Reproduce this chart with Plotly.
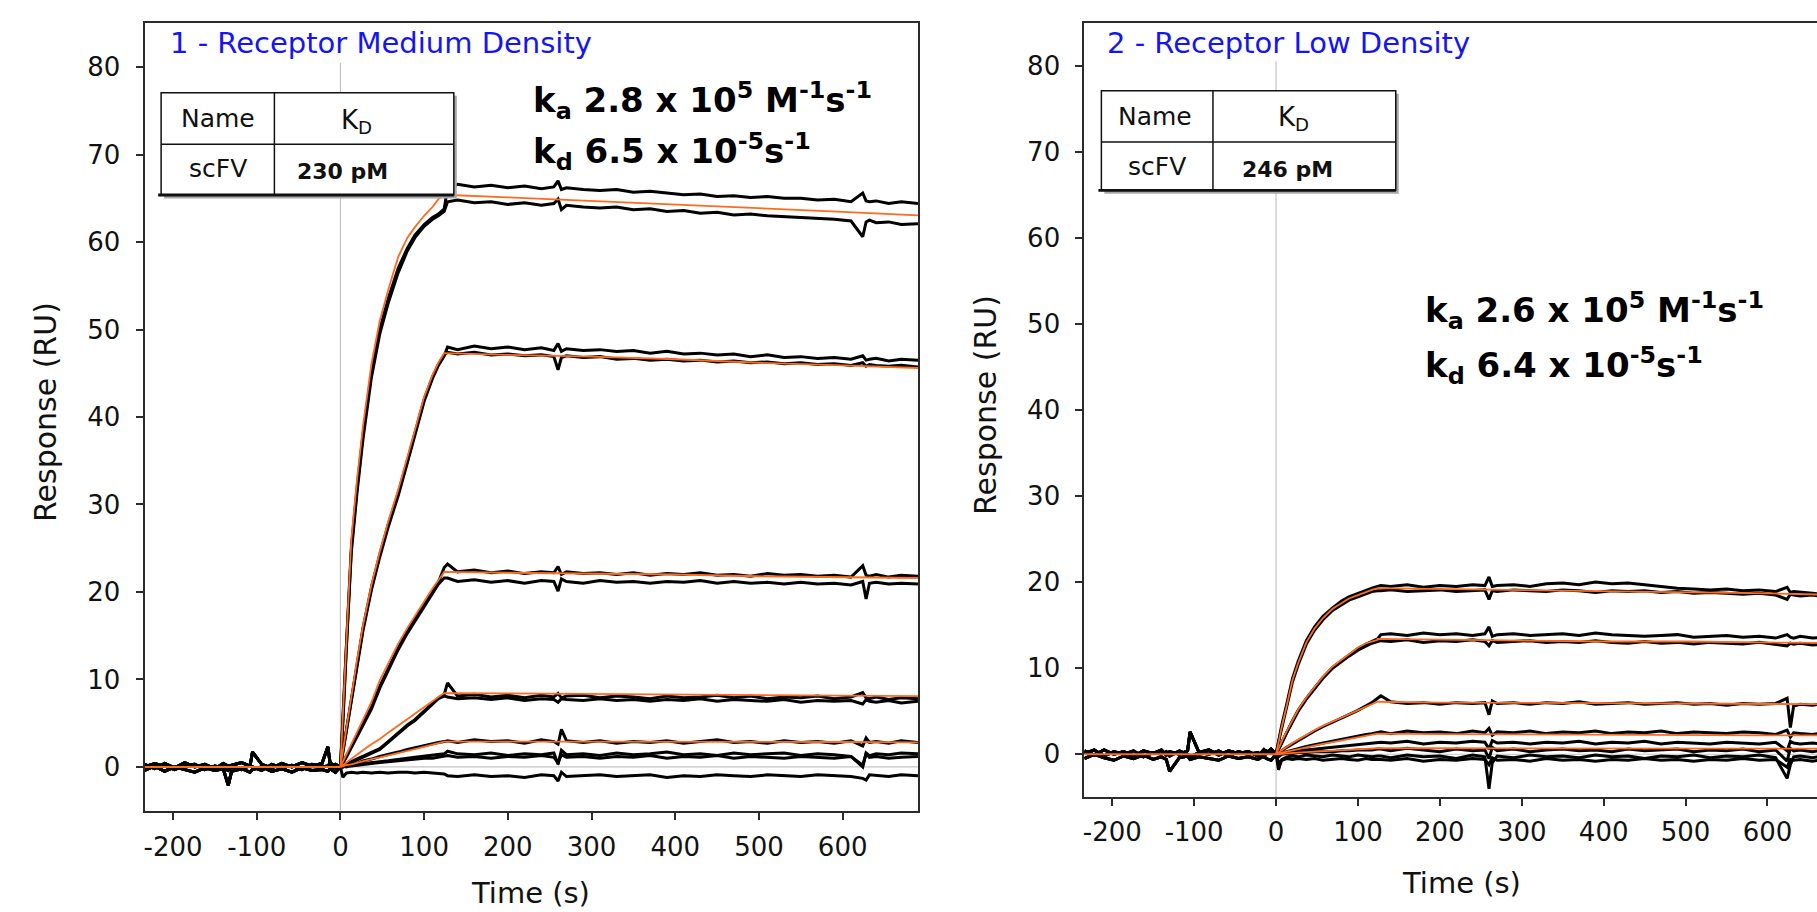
import plotly.graph_objects as go

W, H = 1817, 912

# ---- time grids (s) ----
T_PRE = [-234, -222, -210, -198, -186, -174, -162, -150, -140, -134, -130, -118, -108,
         -105, -94, -82, -70, -58, -46, -34, -22, -15, -12, -6, 0]
T_ON = [0, 3, 7, 13, 20, 27, 37, 47, 57, 69, 80, 89, 100, 110, 117, 124]
T_OFF = [128, 140, 160, 180, 200, 220, 240, 255, 260, 264, 270, 290, 310, 330, 350, 370,
         390, 410, 430, 450, 470, 490, 510, 530, 550, 570, 590, 610, 624, 628, 632, 640,
         655, 670, 690]
T_FIT_OFF = [124, 200, 300, 400, 500, 600, 690]
T_FIT_BASE = [-234, 0]
FIT_BASE = [0, 0]

X_TICKS = [-200, -100, 0, 100, 200, 300, 400, 500, 600]
X_TICK_TEXT = ["-200", "-100", "0", "100", "200", "300", "400", "500", "600"]
Y_TICKS = [0, 10, 20, 30, 40, 50, 60, 70, 80]

# ---- panel 1 : receptor medium density ----
PRE_A = [0.3, -0.2, 0.4, -0.1, 0.5, 0.0, 0.3, -0.2, 0.4, 0.1, 0.2, 0.5, 0.1, 1.7, 0.3,
         -0.1, 0.4, 0.0, 0.5, 0.1, 0.4, 2.3, 0.2, 0.3, 0.0]
PRE_B = [-0.4, 0.1, -0.5, 0.0, -0.3, -0.6, -0.1, -0.4, -0.2, -2.1, -0.5, -0.2, -0.6, -0.3,
         0.0, -0.5, -0.2, -0.6, -0.1, -0.4, -0.3, -0.5, -0.2, -0.6, 0.0]
PRE_C = [0.0, 0.4, 0.1, -0.3, 0.2, 0.3, -0.3, 0.1, -0.1, -0.4, 0.0, -0.3, 0.2, 0.0, -0.4,
         0.3, -0.1, 0.2, -0.3, 0.3, 0.0, 0.1, 0.5, -0.2, 0.0]

L1A_ON = [0, 5.5, 14, 25, 32, 38, 45, 50, 53.5, 57, 59.3, 60.8, 62, 62.8, 63.2, 63.8]
L1A_OFF = [66.2, 66.6, 66.3, 66.5, 66.2, 66.4, 66.1, 66.3, 67.0, 66.0, 66.2, 66.0, 65.9, 66.0,
           65.7, 65.8, 65.6, 65.4, 65.5, 65.2, 65.3, 65.1, 65.2, 65.0, 65.0, 64.8, 64.9, 64.6,
           65.6, 64.7, 64.6, 64.7, 64.4, 64.6, 64.4]
L1B_ON = [0, 5, 13.5, 24.5, 31.5, 37.5, 44.5, 49.5, 53, 56.5, 59, 60.5, 61.8, 62.6, 63.0, 63.5]
L1B_OFF = [64.6, 64.8, 64.5, 64.6, 64.3, 64.5, 64.2, 64.4, 64.9, 63.7, 64.2, 64.0, 63.9, 64.0,
           63.7, 63.8, 63.5, 63.6, 63.3, 63.4, 63.1, 63.2, 63.0, 62.9, 62.8, 62.7, 62.6, 62.4,
           60.6, 62.3, 62.5, 62.2, 62.3, 62.0, 62.1]
L2A_ON = [0, 1.7, 4.0, 7.6, 11.8, 15.6, 20.2, 24.0, 27.4, 31.0, 34.8, 38.0, 41.8, 44.4, 45.9, 47.0]
L2A_OFF = [48.0, 47.7, 48.1, 47.8, 48.0, 47.7, 47.9, 47.6, 48.4, 47.5, 47.8, 47.6, 47.7, 47.5,
           47.6, 47.3, 47.5, 47.2, 47.3, 47.1, 47.2, 46.9, 47.1, 46.8, 46.9, 46.7, 46.8, 46.6,
           47.0, 46.5, 46.6, 46.7, 46.4, 46.6, 46.5]
L2B_ON = [0, 1.8, 4.2, 7.9, 12.0, 15.9, 20.5, 24.3, 27.7, 31.3, 35.0, 38.2, 42.0, 44.6, 46.0, 47.1]
L2B_OFF = [47.4, 47.2, 47.4, 47.1, 47.2, 47.0, 47.1, 46.9, 45.4, 46.8, 47.0, 46.8, 46.9, 46.6,
           46.7, 46.5, 46.6, 46.4, 46.5, 46.3, 46.4, 46.2, 46.3, 46.1, 46.2, 46.0, 46.1, 45.9,
           46.2, 45.8, 46.0, 45.9, 45.8, 45.9, 45.7]
L3A_ON = [0, 0.5, 1.2, 2.3, 3.6, 4.9, 6.8, 9.2, 11.2, 13.6, 15.5, 16.9, 18.6, 20.1, 21.1, 22.8]
L3A_OFF = [23.2, 22.3, 22.5, 22.2, 22.4, 22.1, 22.3, 22.2, 22.9, 22.0, 22.3, 22.1, 22.2, 22.0,
           22.2, 21.9, 22.1, 22.0, 22.2, 21.9, 22.0, 21.8, 22.1, 21.9, 22.0, 21.8, 21.9, 21.7,
           23.0, 21.9, 21.8, 22.0, 21.7, 21.9, 21.8]
L3B_ON = [0, 0.4, 1.1, 2.2, 3.5, 4.8, 6.6, 9.0, 11.0, 13.4, 15.3, 16.7, 18.4, 19.9, 20.9, 21.6]
L3B_OFF = [21.6, 21.2, 21.4, 21.1, 21.3, 21.0, 21.3, 21.2, 20.1, 21.5, 21.2, 21.0, 21.3, 21.1,
           21.2, 21.0, 21.2, 21.1, 21.3, 21.0, 21.2, 21.0, 21.1, 20.9, 21.1, 20.9, 21.0, 20.8,
           21.2, 19.2, 21.0, 21.1, 20.9, 21.0, 20.9]
L4A_ON = [0, 0.1, 0.3, 0.6, 0.9, 1.2, 1.6, 2.1, 2.9, 3.9, 4.8, 5.4, 6.4, 7.3, 7.9, 8.3]
L4A_OFF = [9.6, 8.1, 8.3, 8.0, 8.2, 7.9, 8.2, 8.0, 8.4, 7.9, 8.1, 8.2, 7.9, 8.1, 8.0, 7.8, 8.1,
           7.9, 8.0, 8.2, 7.9, 8.1, 7.8, 8.0, 7.9, 8.1, 7.8, 8.0, 8.5, 7.9, 7.8, 8.0, 7.7, 7.9, 7.8]
L4B_ON = [0, 0.1, 0.2, 0.5, 0.8, 1.1, 1.5, 2.0, 2.8, 3.8, 4.7, 5.3, 6.3, 7.2, 7.8, 8.1]
L4B_OFF = [8.0, 7.8, 7.9, 7.7, 7.9, 7.6, 7.8, 7.7, 7.4, 7.8, 7.7, 7.6, 7.8, 7.6, 7.7, 7.5, 7.7,
           7.6, 7.8, 7.5, 7.7, 7.6, 7.5, 7.7, 7.4, 7.6, 7.5, 7.6, 7.2, 7.7, 7.5, 7.4, 7.6, 7.3, 7.5]
L5_ON = [0, 0.0, 0.2, 0.3, 0.4, 0.7, 0.9, 1.2, 1.4, 1.7, 2.0, 2.2, 2.4, 2.7, 2.8, 2.9]
L5_OFF = [3.0, 2.8, 3.1, 2.9, 3.0, 2.7, 3.1, 2.9, 2.6, 4.3, 3.0, 2.8, 3.0, 2.7, 2.9, 2.8, 3.0,
          2.7, 2.9, 3.1, 2.8, 2.9, 2.7, 3.0, 2.8, 2.9, 2.7, 3.0, 2.4, 3.3, 2.8, 2.9, 2.7, 3.0, 2.8]
L6_ON = [0, 0.1, 0.0, 0.2, 0.3, 0.4, 0.5, 0.6, 0.7, 0.9, 1.0, 1.1, 1.2, 1.3, 1.4, 1.5]
L6_OFF = [1.8, 1.5, 1.4, 1.6, 1.3, 1.5, 1.4, 1.6, 0.3, 1.9, 1.4, 1.5, 1.3, 1.6, 1.4, 1.5, 1.7,
          1.4, 1.5, 1.3, 1.6, 1.4, 1.5, 1.6, 1.3, 1.5, 1.4, 1.2, 0.0, 1.6, 1.3, 1.5, 1.4, 1.6, 1.5]
L7_ON = [0, 0, 0.1, 0.1, 0.2, 0.3, 0.4, 0.5, 0.6, 0.7, 0.8, 0.9, 1.0, 1.0, 1.1, 1.2]
L7_OFF = [1.3, 1.1, 1.2, 1.0, 1.2, 1.1, 1.3, 1.1, 0.5, 1.4, 1.1, 1.2, 1.0, 1.2, 1.1, 1.3, 1.0,
          1.2, 1.1, 1.3, 1.0, 1.2, 1.1, 1.0, 1.2, 1.1, 1.0, 1.2, 0.2, 1.5, 1.1, 1.2, 1.0, 1.1, 1.2]
L8_ON = [0, -1.2, -0.7, -0.6, -0.7, -0.6, -0.7, -0.6, -0.7, -0.6, -0.6, -0.7, -0.6, -0.7, -0.7, -0.8]
L8_OFF = [-1.0, -1.1, -0.9, -1.1, -1.0, -1.2, -0.9, -1.0, -1.6, -0.6, -1.1, -1.0, -0.9, -1.1,
          -1.0, -0.9, -1.2, -1.0, -1.1, -0.9, -1.0, -1.1, -0.9, -1.0, -1.1, -0.9, -1.0, -1.1,
          -1.3, -1.5, -0.9, -1.0, -1.1, -0.9, -1.0]

F1_ON = [0, 6.2, 15.0, 26.0, 33.0, 39.0, 46.0, 51.0, 54.5, 58.3, 60.5, 61.7, 63.0, 64.0, 64.9, 65.4]
F1_OFF = [65.4, 65.1, 64.7, 64.3, 63.9, 63.45, 63.05]
F2_ON = [0, 1.9, 4.4, 8.1, 12.3, 16.2, 20.8, 24.6, 28.0, 31.7, 35.3, 38.5, 42.3, 44.8, 46.2, 47.3]
F2_OFF = [47.3, 47.1, 46.9, 46.6, 46.2, 45.9, 45.6]
F3_ON = [0, 0.6, 1.4, 2.6, 4.0, 5.4, 7.4, 9.9, 11.8, 14.1, 15.9, 17.2, 18.9, 20.4, 21.4, 22.3]
F3_OFF = [22.3, 22.2, 22.1, 22.0, 21.8, 21.7, 21.6]
F4_ON = [0, 0.2, 0.5, 0.9, 1.4, 1.9, 2.6, 3.2, 3.9, 4.7, 5.4, 6.0, 6.8, 7.5, 8.0, 8.4]
F4_OFF = [8.45, 8.4, 8.35, 8.3, 8.2, 8.15, 8.1]
F5_ON = [0, 0.1, 0.2, 0.3, 0.5, 0.65, 0.9, 1.1, 1.35, 1.6, 1.85, 2.05, 2.3, 2.55, 2.7, 2.85]
F5_OFF = [2.9, 2.9, 2.9, 2.85, 2.85, 2.85, 2.8]

# ---- panel 2 : receptor low density ----
R_PRE_A = [0.4, -0.1, 0.5, 0.0, 0.3, -0.2, 0.4, 0.1, 0.5, -0.1, 0.3, 0.0, 0.4, 2.6, 0.2, 0.5,
           -0.1, 0.4, 0.1, 0.3, -0.2, 0.5, 0.1, 0.6, 0.0]
R_PRE_B = [-0.5, 0.0, -0.4, -0.7, -0.2, -0.5, -0.1, -0.6, -0.3, -0.6, -2.0, -0.4, -0.2, -0.6,
           -0.3, -0.5, -0.7, -0.2, -0.5, -0.3, -0.6, -0.2, -0.5, -0.7, 0.0]
R_PRE_C = [0.1, 0.5, -0.2, 0.3, 0.0, 0.4, -0.3, 0.2, 0.0, 0.3, -0.2, 0.4, 0.0, -0.3, 0.2, 0.0,
           0.4, -0.2, 0.3, 0.0, 0.2, -0.3, 0.4, 0.1, 0.0]

R1A_ON = [0, 1.6, 3.4, 5.8, 8.8, 10.8, 13.2, 14.8, 16.0, 17.0, 17.8, 18.3, 18.7, 19.1, 19.3, 19.5]
R1A_OFF = [19.6, 19.5, 19.7, 19.4, 19.6, 19.5, 19.7, 19.6, 20.6, 19.5, 19.6, 19.7, 19.5, 19.8,
           19.9, 19.7, 20.0, 19.8, 19.9, 19.7, 19.5, 19.3, 19.2, 19.1, 19.2, 19.0, 19.1, 18.9,
           19.4, 18.8, 18.9, 18.8, 18.7, 18.6, 18.6]
R1B_ON = [0, 1.4, 3.0, 5.4, 8.4, 10.4, 12.8, 14.4, 15.6, 16.7, 17.4, 17.9, 18.3, 18.7, 18.9, 19.0]
R1B_OFF = [19.0, 19.1, 18.9, 19.0, 19.1, 18.9, 19.0, 19.1, 18.0, 19.0, 18.9, 19.1, 19.0, 18.9,
           19.1, 19.0, 18.8, 19.0, 18.9, 19.0, 18.8, 18.9, 18.7, 18.8, 18.7, 18.6, 18.7, 18.5,
           18.0, 18.6, 18.5, 18.4, 18.5, 18.3, 18.4]
R2A_ON = [0, 0.6, 1.4, 2.6, 3.9, 5.1, 6.5, 7.7, 8.9, 10.1, 10.9, 11.5, 12.3, 12.8, 13.1, 13.4]
R2A_OFF = [13.9, 14.0, 13.8, 14.1, 13.9, 14.0, 13.8, 14.0, 14.8, 13.7, 13.9, 14.0, 13.8, 13.9,
           14.0, 13.8, 14.1, 13.9, 13.8, 13.7, 13.8, 13.9, 13.6, 13.7, 13.8, 13.6, 13.7, 13.5,
           13.9, 13.6, 13.5, 13.7, 13.5, 13.6, 13.4]
R2B_ON = [0, 0.5, 1.3, 2.5, 3.8, 5.0, 6.4, 7.6, 8.8, 10.0, 10.8, 11.4, 12.1, 12.6, 12.9, 13.1]
R2B_OFF = [13.2, 13.1, 13.3, 13.0, 13.2, 13.1, 13.3, 13.1, 12.6, 13.2, 13.0, 13.1, 13.2, 13.0,
           13.1, 13.0, 13.2, 13.0, 12.9, 13.1, 12.9, 13.0, 12.8, 13.0, 12.9, 12.8, 13.0, 12.8,
           12.6, 12.9, 12.8, 12.9, 12.7, 12.8, 12.7]
R3_ON = [0, 0.2, 0.4, 0.8, 1.2, 1.6, 2.2, 2.7, 3.2, 3.7, 4.2, 4.6, 5.1, 5.6, 6.0, 6.5]
R3_OFF = [6.8, 6.1, 5.9, 6.0, 5.8, 6.0, 5.9, 6.0, 4.6, 6.2, 5.9, 6.0, 5.8, 6.0, 5.9, 6.1, 5.8,
          5.9, 6.0, 5.8, 5.9, 6.0, 5.8, 5.9, 5.7, 5.9, 5.8, 5.9, 6.5, 3.1, 5.6, 5.8, 5.7, 5.9, 5.8]
R4_ON = [0, 0.1, 0.2, 0.3, 0.5, 0.7, 0.9, 1.1, 1.3, 1.5, 1.7, 1.9, 2.1, 2.3, 2.4, 2.5]
R4_OFF = [2.6, 2.4, 2.7, 2.5, 2.6, 2.4, 2.7, 2.5, 3.0, 2.2, 2.6, 2.5, 2.7, 2.4, 2.6, 2.5, 2.7,
          2.4, 2.6, 2.5, 2.7, 2.4, 2.6, 2.5, 2.4, 2.6, 2.5, 2.3, 2.8, 2.0, 2.5, 2.4, 2.3, 2.5, 2.4]
R5_ON = [0, 0.05, 0.1, 0.2, 0.3, 0.4, 0.5, 0.6, 0.7, 0.8, 0.9, 1.0, 1.1, 1.2, 1.3, 1.4]
R5_OFF = [1.4, 1.3, 1.5, 1.2, 1.4, 1.3, 1.5, 1.4, 0.6, 1.6, 1.3, 1.4, 1.2, 1.4, 1.3, 1.5, 1.2,
          1.4, 1.3, 1.5, 1.2, 1.4, 1.3, 1.2, 1.4, 1.3, 1.2, 1.4, 0.4, 1.5, 1.3, 1.2, 1.3, 1.2, 1.3]
R6_ON = [0, -0.3, 0.0, 0.1, 0.1, 0.2, 0.2, 0.3, 0.3, 0.3, 0.4, 0.4, 0.5, 0.5, 0.5, 0.6]
R6_OFF = [0.6, 0.4, 0.7, 0.5, 0.3, 0.6, 0.4, 0.5, -0.5, 0.8, 0.4, 0.6, 0.3, 0.5, 0.6, 0.4, 0.5,
          0.3, 0.6, 0.4, 0.5, 0.6, 0.3, 0.5, 0.4, 0.6, 0.3, 0.5, -0.8, 0.7, 0.4, 0.5, 0.3, 0.5, 0.4]
R7_ON = [0, -1.8, -0.6, -0.3, -0.2, -0.3, -0.1, -0.2, -0.3, -0.1, -0.2, -0.3, -0.1, -0.2, -0.3, -0.2]
R7_OFF = [-0.2, -0.4, -0.1, -0.3, -0.2, -0.5, -0.1, -0.3, -4.0, -1.0, -0.2, -0.4, -0.1, -0.3,
          -0.2, -0.4, -0.1, -0.3, -0.2, -0.5, -0.2, -0.3, -0.1, -0.4, -0.2, -0.3, -0.1, -0.4,
          -2.8, -1.2, -0.3, -0.2, -0.4, -0.2, -0.3]
R8_ON = [0, -1.0, -0.7, -0.5, -0.6, -0.5, -0.6, -0.5, -0.7, -0.6, -0.5, -0.6, -0.7, -0.5, -0.6, -0.6]
R8_OFF = [-0.6, -0.7, -0.5, -0.8, -0.6, -0.7, -0.5, -0.6, -1.2, -0.4, -0.7, -0.6, -0.8, -0.5,
          -0.7, -0.6, -0.8, -0.6, -0.7, -0.5, -0.7, -0.6, -0.8, -0.6, -0.7, -0.5, -0.7, -0.6,
          -1.5, -0.6, -0.7, -0.6, -0.8, -0.6, -0.7]

G1_ON = [0, 1.5, 3.2, 5.6, 8.6, 10.6, 13.0, 14.6, 15.8, 16.9, 17.6, 18.1, 18.5, 18.9, 19.1, 19.3]
G1_OFF = [19.3, 19.2, 19.1, 19.0, 18.8, 18.7, 18.5]
G2_ON = [0, 0.7, 1.5, 2.7, 4.0, 5.2, 6.6, 7.8, 9.0, 10.2, 11.0, 11.6, 12.4, 12.9, 13.1, 13.3]
G2_OFF = [13.4, 13.3, 13.2, 13.1, 13.1, 13.0, 12.9]
G3_ON = [0, 0.2, 0.5, 0.9, 1.3, 1.7, 2.3, 2.8, 3.3, 3.8, 4.2, 4.6, 5.1, 5.5, 5.8, 6.1]
G3_OFF = [6.1, 6.0, 6.0, 5.95, 5.9, 5.85, 5.8]
G4_ON = [0, 0.1, 0.2, 0.3, 0.45, 0.6, 0.8, 1.0, 1.2, 1.4, 1.6, 1.8, 2.0, 2.2, 2.3, 2.4]
G4_OFF = [2.4, 2.35, 2.3, 2.3, 2.25, 2.2, 2.2]
G5_ON = [0, 0.03, 0.06, 0.1, 0.15, 0.2, 0.25, 0.3, 0.35, 0.4, 0.45, 0.5, 0.55, 0.6, 0.65, 0.7]
G5_OFF = [0.7, 0.7, 0.7, 0.68, 0.67, 0.66, 0.65]

LEFT_DATA = [
    (PRE_A, L1A_ON, L1A_OFF), (PRE_B, L1B_ON, L1B_OFF),
    (PRE_C, L2A_ON, L2A_OFF), (PRE_A, L2B_ON, L2B_OFF),
    (PRE_B, L3A_ON, L3A_OFF), (PRE_C, L3B_ON, L3B_OFF),
    (PRE_A, L4A_ON, L4A_OFF), (PRE_B, L4B_ON, L4B_OFF),
    (PRE_C, L5_ON, L5_OFF), (PRE_A, L6_ON, L6_OFF),
    (PRE_B, L7_ON, L7_OFF), (PRE_C, L8_ON, L8_OFF),
]
LEFT_FITS = [(F1_ON, F1_OFF), (F2_ON, F2_OFF), (F3_ON, F3_OFF), (F4_ON, F4_OFF), (F5_ON, F5_OFF)]
RIGHT_DATA = [
    (R_PRE_A, R1A_ON, R1A_OFF), (R_PRE_B, R1B_ON, R1B_OFF),
    (R_PRE_C, R2A_ON, R2A_OFF), (R_PRE_A, R2B_ON, R2B_OFF),
    (R_PRE_B, R3_ON, R3_OFF), (R_PRE_C, R4_ON, R4_OFF),
    (R_PRE_A, R5_ON, R5_OFF), (R_PRE_B, R6_ON, R6_OFF),
    (R_PRE_C, R7_ON, R7_OFF), (R_PRE_A, R8_ON, R8_OFF),
]
RIGHT_FITS = [(G1_ON, G1_OFF), (G2_ON, G2_OFF), (G3_ON, G3_OFF), (G4_ON, G4_OFF), (G5_ON, G5_OFF)]

BLACK = "#000000"
ORANGE = "#ff6a1c"
AXIS = "#2b2b2b"
FONT = "DejaVu Sans"


def px(x):
    return x / W


def py(y):
    return 1 - y / H


fig = go.Figure()

for xa, ya, data, fits in (("x", "y", LEFT_DATA, LEFT_FITS), ("x2", "y2", RIGHT_DATA, RIGHT_FITS)):
    for pre, on, off in data:
        fig.add_trace(go.Scatter(x=T_PRE + T_ON + T_OFF, y=pre + on + off, mode="lines",
                                 line=dict(color=BLACK, width=3), xaxis=xa, yaxis=ya,
                                 showlegend=False, hoverinfo="skip"))
    fig.add_trace(go.Scatter(x=T_FIT_BASE, y=FIT_BASE, mode="lines",
                             line=dict(color=ORANGE, width=2), xaxis=xa, yaxis=ya,
                             showlegend=False, hoverinfo="skip"))
    for on, off in fits:
        fig.add_trace(go.Scatter(x=T_ON + T_FIT_OFF, y=on + off, mode="lines",
                                 line=dict(color=ORANGE, width=1.8), xaxis=xa, yaxis=ya,
                                 showlegend=False, hoverinfo="skip"))

axis_common = dict(showgrid=False, zeroline=False, showline=True, linecolor=AXIS, linewidth=2,
                   ticks="outside", ticklen=7, tickwidth=1.5, tickcolor=AXIS,
                   tickfont=dict(family=FONT, size=26, color="#111"))

fig.update_layout(
    width=W, height=H, margin=dict(l=0, r=0, t=0, b=0),
    paper_bgcolor="white", plot_bgcolor="white",
    font=dict(family=FONT, color="#111"),
    xaxis=dict(domain=[px(142.7), px(917)], range=[-234, 690], tickvals=X_TICKS,
               ticktext=X_TICK_TEXT, mirror=True, anchor="y", ticklabelstandoff=5, **axis_common),
    yaxis=dict(domain=[py(810.7), py(23.3)], range=[-5, 85], tickvals=Y_TICKS,
               mirror=True, anchor="x", ticklabelstandoff=10, **axis_common),
    xaxis2=dict(domain=[px(1083.6), 1.0], range=[-234, 660.5], tickvals=X_TICKS,
                ticktext=X_TICK_TEXT, mirror=True, anchor="y2", ticklabelstandoff=3, **axis_common),
    yaxis2=dict(domain=[py(797.3), py(22.7)], range=[-5, 85], tickvals=Y_TICKS,
                mirror=False, anchor="x2", ticklabelstandoff=10, **axis_common),
)

shapes = []
# reference lines at t = 0 and R = 0
for xr, yr, xmax in (("x", "y", 690), ("x2", "y2", 660.5)):
    shapes.append(dict(type="line", xref=xr, yref=yr, x0=0, x1=0, y0=-5, y1=80.5,
                       line=dict(color="#c4c4c4", width=1.2), layer="below"))
    shapes.append(dict(type="line", xref=xr, yref=yr, x0=0, x1=xmax, y0=0, y1=0,
                       line=dict(color="#c4c4c4", width=1.2), layer="below"))

annotations = []


def table(x0, x1, y0, ym, y1, xd, kd_text, cells):
    shapes.append(dict(type="rect", xref="paper", yref="paper", x0=px(x0 + 3), x1=px(x1 + 3),
                       y0=py(y1 + 3.5), y1=py(y0 + 3), fillcolor="#a8a8a8", line=dict(width=0),
                       layer="above"))
    shapes.append(dict(type="rect", xref="paper", yref="paper", x0=px(x0), x1=px(x1),
                       y0=py(y1), y1=py(y0), fillcolor="white",
                       line=dict(color="#111", width=1.5), layer="above"))
    shapes.append(dict(type="line", xref="paper", yref="paper", x0=px(x0), x1=px(x1),
                       y0=py(ym), y1=py(ym), line=dict(color="#111", width=1.5), layer="above"))
    shapes.append(dict(type="line", xref="paper", yref="paper", x0=px(xd), x1=px(xd),
                       y0=py(y1), y1=py(y0), line=dict(color="#111", width=1.5), layer="above"))
    shapes.append(dict(type="line", xref="paper", yref="paper", x0=px(x0 - 3), x1=px(x1),
                       y0=py(y1), y1=py(y1), line=dict(color="#111", width=2.8), layer="above"))
    for text, cx, cy, size in cells:
        annotations.append(dict(text=text, x=px(cx), y=py(cy), xref="paper", yref="paper",
                                showarrow=False, xanchor="center", yanchor="middle",
                                font=dict(family=FONT, size=size, color="#111")))
    annotations.append(dict(text=kd_text[0], x=px(kd_text[1]), y=py(kd_text[2]), xref="paper",
                            yref="paper", showarrow=False, xanchor="center", yanchor="middle",
                            font=dict(family=FONT, size=22, color="#111")))


table(159.3, 452.3, 92.7, 144.3, 195, 272.7, ("<b>230 pM</b>", 341, 171),
      [("Name", 216, 118, 25), ("K<sub>D</sub>", 355, 121, 26), ("scFV", 216, 168, 25)])
table(1100.6, 1395.3, 90.7, 142, 190.3, 1212.3, ("<b>246 pM</b>", 1287, 170),
      [("Name", 1154, 116, 25), ("K<sub>D</sub>", 1293, 119, 26), ("scFV", 1156, 166, 25)])

# panel titles
for text, x0 in (("1 - Receptor Medium Density", 166), ("2 - Receptor Low Density", 1104.7)):
    annotations.append(dict(text=text, x=px(x0), y=py(43), xref="paper", yref="paper",
                            showarrow=False, xanchor="left", yanchor="middle",
                            font=dict(family=FONT, size=29, color="#1414f5")))

# rate constants
KIN = [
    ("<b>k<sub>a</sub> 2.8 x 10<sup>5</sup> M<sup>-1</sup>s<sup>-1</sup></b>", 530, 100),
    ("<b>k<sub>d</sub> 6.5 x 10<sup>-5</sup>s<sup>-1</sup></b>", 530, 152),
    ("<b>k<sub>a</sub> 2.6 x 10<sup>5</sup> M<sup>-1</sup>s<sup>-1</sup></b>", 1423, 311),
    ("<b>k<sub>d</sub> 6.4 x 10<sup>-5</sup>s<sup>-1</sup></b>", 1423, 365),
]
for text, x0, y0 in KIN:
    annotations.append(dict(text=text, x=px(x0), y=py(y0), xref="paper", yref="paper",
                            showarrow=False, xanchor="left", yanchor="middle",
                            font=dict(family=FONT, size=34, color="#000")))

# axis titles
for cx, cy in ((44, 412), (985, 405)):
    annotations.append(dict(text="Response (RU)", x=px(cx), y=py(cy), xref="paper", yref="paper",
                            showarrow=False, textangle=-90, xanchor="center", yanchor="middle",
                            font=dict(family=FONT, size=30, color="#111")))
for cx, cy in ((529.5, 893), (1461.5, 883)):
    annotations.append(dict(text="Time (s)", x=px(cx), y=py(cy), xref="paper", yref="paper",
                            showarrow=False, xanchor="center", yanchor="middle",
                            font=dict(family=FONT, size=29, color="#111")))

fig.update_layout(shapes=shapes, annotations=annotations)

fig.write_html("out.html", config={"displayModeBar": False},
               post_script="document.body.style.margin='0';")
